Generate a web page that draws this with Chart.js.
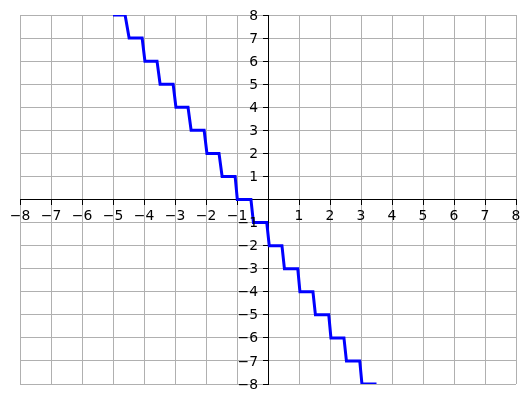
<!DOCTYPE html>
<html>
<head>
<meta charset="utf-8">
<script src="https://cdn.jsdelivr.net/npm/chart.js@4/dist/chart.umd.min.js"></script>
<style>
    body { margin: 0; background: #fff; }
    canvas { display: block; }
</style>
</head>
<body>
<canvas id="stepChart" width="530" height="403"></canvas>
<script>
// each flat piece of the staircase: where it starts, where it ends, and its level
const segStart = [-5, -4.48, -3.97, -3.48, -2.97, -2.48, -1.97, -1.48, -0.99, -0.47, 0.04, 0.53, 1.03, 1.53, 2.03, 2.53, 3.03];
const segEnd = [-4.61, -4.06, -3.58, -3.06, -2.58, -2.06, -1.58, -1.06, -0.55, -0.04, 0.45, 0.96, 1.45, 1.96, 2.45, 2.96, 3.5];
const segLevel = [8, 7, 6, 5, 4, 3, 2, 1, 0, -1, -2, -3, -4, -5, -6, -7, -8];

const axisMin = -8;
const axisMax = 8;
const fontFamily = "'DejaVu Sans', sans-serif";
const fontSize = 13.9;

function tickText(value) {
    if (value === 0) return '';
    return value < 0 ? '\u2212' + Math.abs(value) : String(value);
}

function buildPoints() {
    let pts = [];
    for (let i = 0; i < segLevel.length; i++) {
        pts.push({ x: segStart[i], y: segLevel[i] });
        pts.push({ x: segEnd[i], y: segLevel[i] });
    }
    return pts;
}

// y tick labels sit left of the centred axis, past the tick marks
const yLabels = {
    id: 'yLabels',
    afterDraw(chart) {
        let xs = chart.scales.x;
        let ys = chart.scales.y;
        let ctx = chart.ctx;
        let right = xs.getPixelForValue(0) - 10;
        ctx.save();
        ctx.font = fontSize + 'px ' + fontFamily;
        ctx.fillStyle = '#000';
        ctx.textAlign = 'right';
        ctx.textBaseline = 'middle';
        ys.ticks.forEach(t => {
            let label = tickText(t.value);
            if (label) ctx.fillText(label, right, ys.getPixelForValue(t.value) + 1);
        });
        ctx.restore();
    }
};

window.onload = () => {
    Chart.defaults.font.family = fontFamily;
    Chart.defaults.font.size = fontSize;
    Chart.defaults.color = '#000';

    let ctx = document.getElementById('stepChart').getContext('2d');
    let stepChart = new Chart(ctx, {
        type: 'scatter',
        data: {
            datasets: [{
                data: buildPoints(),
                showLine: true,
                borderColor: '#0000ff',
                borderWidth: 3,
                pointRadius: 0,
                tension: 0
            }]
        },
        options: {
            responsive: false,
            animation: false,
            layout: {
                padding: { left: 20, right: 14, top: 15, bottom: 19 }
            },
            plugins: {
                legend: { display: false },
                tooltip: { enabled: false }
            },
            scales: {
                x: {
                    type: 'linear',
                    position: { y: 0 },
                    min: axisMin,
                    max: axisMax,
                    grid: {
                        color: '#b0b0b0',
                        lineWidth: 1,
                        tickColor: '#000',
                        tickLength: 5
                    },
                    border: { display: true, color: '#000', width: 1 },
                    ticks: {
                        stepSize: 1,
                        autoSkip: false,
                        maxRotation: 0,
                        minRotation: 0,
                        padding: 4,
                        callback: tickText
                    }
                },
                y: {
                    type: 'linear',
                    position: { x: 0 },
                    min: axisMin,
                    max: axisMax,
                    grid: {
                        color: '#b0b0b0',
                        lineWidth: 1,
                        tickColor: '#000',
                        tickLength: 5
                    },
                    border: { display: true, color: '#000', width: 1 },
                    ticks: {
                        stepSize: 1,
                        autoSkip: false,
                        display: false
                    }
                }
            }
        },
        plugins: [yLabels]
    });
};
</script>
</body>
</html>
